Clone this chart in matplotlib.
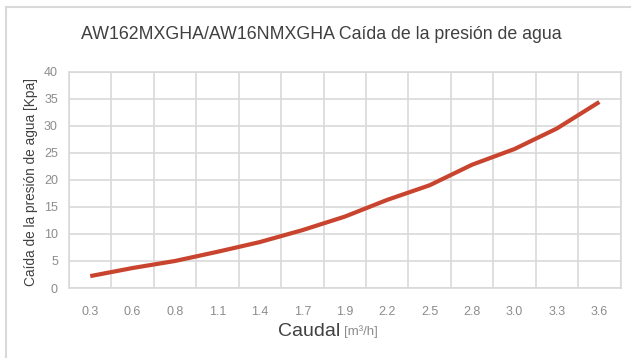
import matplotlib
matplotlib.use("Agg")
import matplotlib.pyplot as plt
from matplotlib.lines import Line2D

plt.rcParams["font.family"] = ["Liberation Sans", "DejaVu Sans"]

caudal = ["0.3", "0.6", "0.8", "1.1", "1.4", "1.7", "1.9",
          "2.2", "2.5", "2.8", "3.0", "3.3", "3.6"]
caida = [2.2, 3.7, 5.0, 6.7, 8.5, 10.7, 13.2,
         16.3, 19.0, 22.8, 25.7, 29.5, 34.4]
yticks = [0, 5, 10, 15, 20, 25, 30, 35, 40]

GRID = "#d9d9d9"
DARK = "#404040"
TICK = "#8c8c8c"

fig = plt.figure(figsize=(6.31, 3.58), dpi=100)
ax = fig.add_axes([0.1094, 0.1955, 0.874, 0.6042])

xs = range(len(caudal))
ax.plot(xs, caida, color="#c9442e", lw=3, solid_capstyle="butt")

ax.set_xlim(-0.5, len(caudal) - 0.5)
ax.set_ylim(0, 40)
ax.set_xticks(list(xs))
ax.set_xticklabels(caudal)
ax.set_xticks([i - 0.5 for i in range(len(caudal) + 1)], minor=True)
ax.set_yticks(yticks)
ax.tick_params(axis="both", which="both", length=0, colors=TICK, labelsize=9)
ax.tick_params(axis="x", pad=13)
ax.tick_params(axis="y", pad=8)
ax.grid(True, axis="y", which="major", color=GRID, lw=1.2)
ax.grid(True, axis="x", which="minor", color=GRID, lw=1.2)
ax.grid(False, axis="x", which="major")
for s in ax.spines.values():
    s.set_color(GRID)
    s.set_linewidth(1.2)
ax.set_axisbelow(True)

ax.set_ylabel("Caída de la presión de agua [Kpa]", color=DARK, fontsize=9.8)
ax.yaxis.set_label_coords(-0.057, 0.49)

fig.text(0.51, 0.905, "AW162MXGHA/AW16NMXGHA Caída de la presión de agua",
         ha="center", va="center", fontsize=12.8, color=DARK)
fig.text(0.539, 0.073, "Caudal", ha="right", va="center", fontsize=14, color=DARK)
fig.text(0.545, 0.073, "[m³/h]", ha="left", va="center", fontsize=9.5, color=TICK)

# outer chart border (left and top edges visible)
fig.add_artist(Line2D([0.0095, 0.0095], [0.0, 0.98], color=GRID, lw=1.5,
                      transform=fig.transFigure))
fig.add_artist(Line2D([0.0095, 1.0], [0.98, 0.98], color=GRID, lw=1.5,
                      transform=fig.transFigure))

fig.savefig("out.png", dpi=100)
